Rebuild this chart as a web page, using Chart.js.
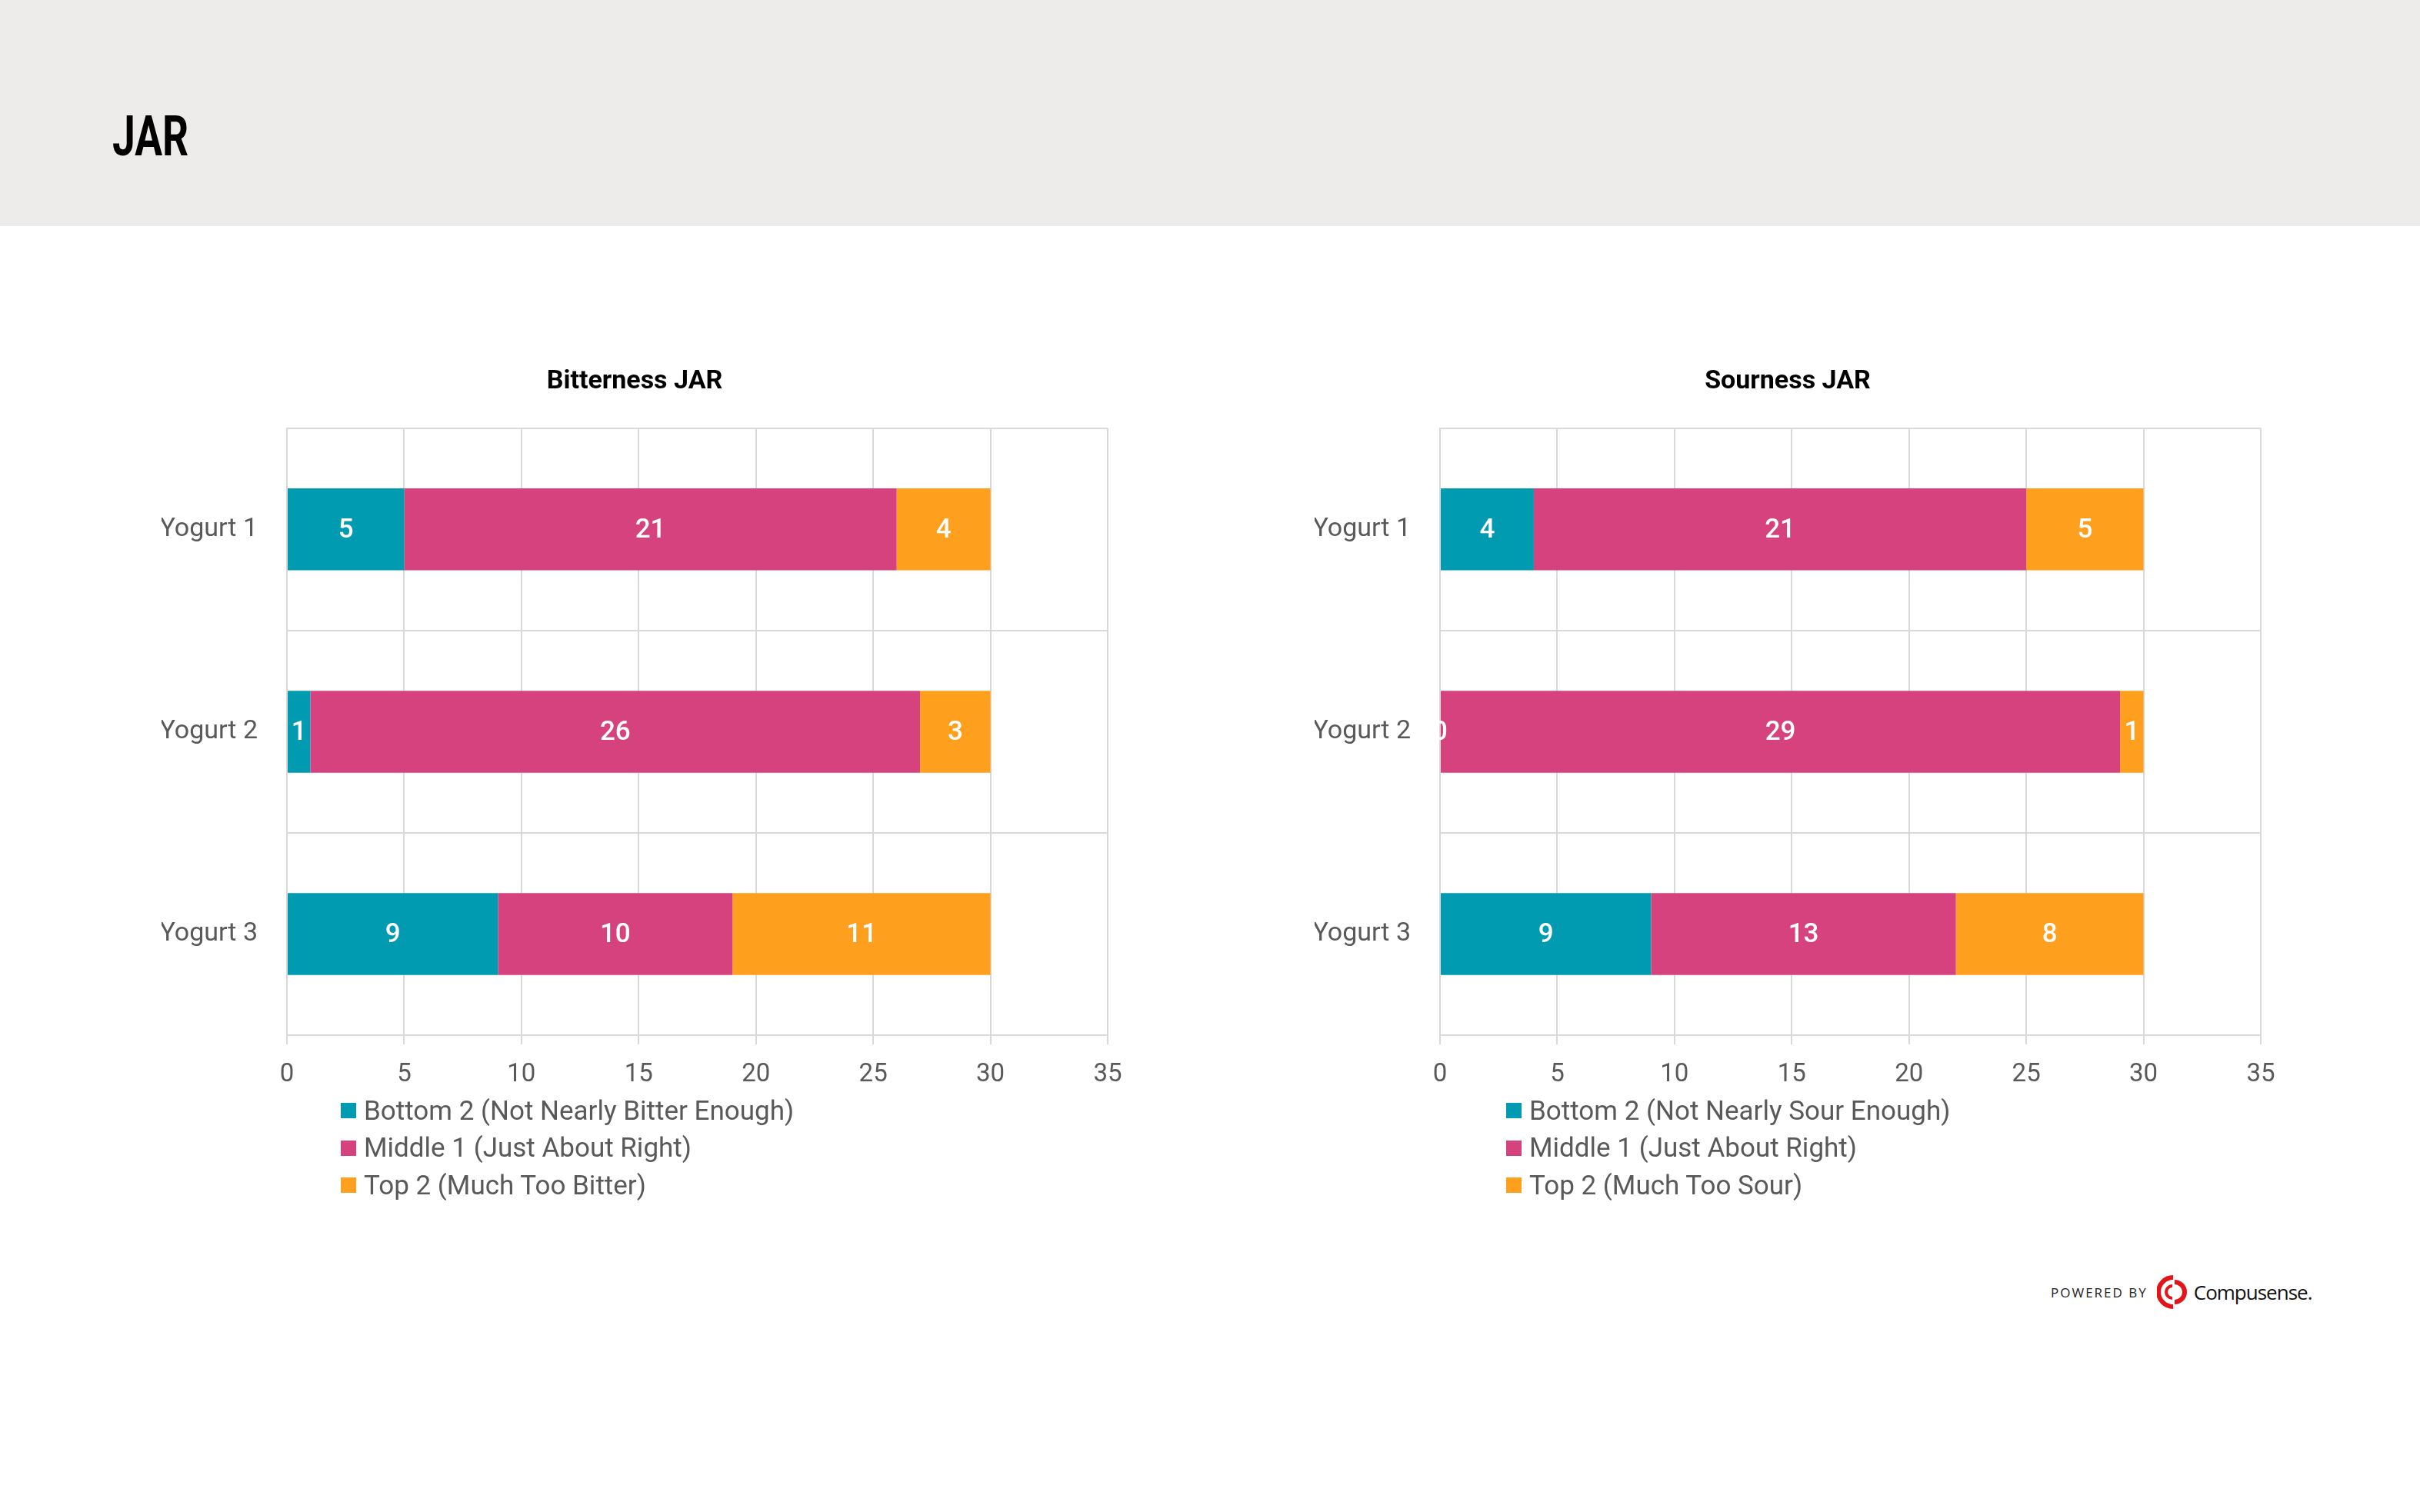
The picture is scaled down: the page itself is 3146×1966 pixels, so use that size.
<!DOCTYPE html>
<html>
<head>
<meta charset="utf-8">
<script src="https://cdn.jsdelivr.net/npm/chart.js@4.4.1/dist/chart.umd.min.js"></script>
<style>
  body { margin: 0; width: 3146px; height: 1966px; background: #fff; position: relative; overflow: hidden; font-family: Roboto, "Noto Sans", sans-serif; }
  #header { position: absolute; left: 0; top: 0; width: 3146px; height: 294px; background: #EDECEA; }
  #header h1 { position: absolute; left: 146px; top: 142px; margin: 0; font-family: Roboto, sans-serif; font-weight: bold; font-size: 72px; line-height: 72px; color: #000; transform: scaleX(0.74); transform-origin: left center; }
  canvas { position: absolute; }
  .legend { position: absolute; margin: 0; padding: 0; list-style: none; }
  .legend li { height: 48.5px; display: flex; align-items: center; font-size: 35px; color: #595959; }
  .legend span { display: inline-block; width: 20px; height: 20px; margin-right: 10px; }
  #footer { position: absolute; left: 2666px; top: 1658px; height: 44px; display: flex; align-items: center; }
  #footer .pb { font-family: "Open Sans", sans-serif; font-size: 17px; letter-spacing: 2px; color: #222; margin-right: 12px; }
  #footer .cs { font-family: "Open Sans", sans-serif; font-size: 26px; color: #111; letter-spacing: -1px; margin-left: 6px; }
</style>
</head>
<body>
<div id="header"><h1>JAR</h1></div>

<canvas id="bitterness" width="1350" height="996" style="left:150px; top:440px;"></canvas>
<canvas id="sourness" width="1350" height="996" style="left:1649px; top:440px;"></canvas>
<ul class="legend" id="legend-bitterness" style="left:443px; top:1420px;"></ul>
<ul class="legend" id="legend-sourness" style="left:1958px; top:1420px;"></ul>

<div id="footer">
  <span class="pb">POWERED BY</span>
  <svg width="42" height="44" viewBox="0 0 42 44">
    <path d="M21 3 A19 19 0 0 0 21 41" fill="none" stroke="#E3151A" stroke-width="6"/>
    <path d="M23 9 A13 13 0 0 1 23 35" fill="none" stroke="#E3151A" stroke-width="6"/>
    <path d="M20 14 A8 8 0 0 0 20 30" fill="none" stroke="#E3151A" stroke-width="4"/>
  </svg>
  <span class="cs">Compusense.</span>
</div>

<script>
var categories = ["Yogurt 1", "Yogurt 2", "Yogurt 3"];
var tickMax = 35;
var tickStep = 5;

var bitterLabels = ["Bottom 2 (Not Nearly Bitter Enough)", "Middle 1 (Just About Right)", "Top 2 (Much Too Bitter)"];
var bitterBottom = [5, 1, 9];
var bitterMiddle = [21, 26, 10];
var bitterTop = [4, 3, 11];

var sourLabels = ["Bottom 2 (Not Nearly Sour Enough)", "Middle 1 (Just About Right)", "Top 2 (Much Too Sour)"];
var sourBottom = [4, 0, 9];
var sourMiddle = [21, 29, 13];
var sourTop = [5, 1, 8];

var colores = ["#009AB1", "#D5427E", "#FF9F1E"];
var grisRejilla = "#D9D9D9";
var grisTexto = "#595959";

// etiquetas blancas dentro de cada segmento
var etiquetasPlugin = {
    id: "etiquetas",
    afterDatasetsDraw: function (chart) {
        var ctx = chart.ctx;
        ctx.save();
        ctx.fillStyle = "#ffffff";
        ctx.font = "500 35px Roboto";
        ctx.textAlign = "center";
        ctx.textBaseline = "middle";
        chart.data.datasets.forEach(function (ds, i) {
            var meta = chart.getDatasetMeta(i);
            meta.data.forEach(function (bar, j) {
                var x = (bar.x + bar.base) / 2;
                ctx.fillText(String(ds.data[j]), x, bar.y + 2);
            });
        });
        ctx.restore();
    }
};

function crear_grafica(id, titulo, labels, bottom, middle, top) {
    var datos = {
        type: "bar",
        data: {
            labels: categories,
            datasets: [
                { label: labels[0], data: bottom, backgroundColor: colores[0] },
                { label: labels[1], data: middle, backgroundColor: colores[1] },
                { label: labels[2], data: top, backgroundColor: colores[2] }
            ]
        },
        options: {
            indexAxis: "y",
            responsive: false,
            animation: false,
            devicePixelRatio: 1,
            datasets: { bar: { categoryPercentage: 1, barPercentage: 0.405 } },
            layout: { padding: { left: 60, right: 60 } },
            plugins: {
                legend: { display: false },
                tooltip: { enabled: false },
                title: {
                    display: true,
                    text: titulo,
                    color: "#000",
                    font: { family: "Roboto", size: 34, weight: "bold" },
                    padding: { top: 36, bottom: 40 }
                }
            },
            scales: {
                x: {
                    stacked: true,
                    min: 0,
                    max: tickMax,
                    ticks: { stepSize: tickStep, color: grisTexto, font: { family: "Roboto", size: 33 }, padding: 20 },
                    grid: { color: grisRejilla, lineWidth: 2, tickLength: 12 },
                    border: { color: grisRejilla, width: 2 },
                    afterFit: function (scale) { scale.height = 90; }
                },
                y: {
                    stacked: true,
                    ticks: { color: grisTexto, font: { family: "Roboto", size: 34 }, padding: 38 },
                    grid: { color: grisRejilla, lineWidth: 2, drawTicks: false },
                    border: { color: grisRejilla, width: 2 },
                    afterFit: function (scale) { scale.width = 163; }
                }
            }
        },
        plugins: [etiquetasPlugin]
    };
    var grafica = new Chart(document.getElementById(id), datos);

    var ul = document.getElementById("legend-" + id);
    grafica.data.datasets.forEach(function (ds) {
        var li = document.createElement("li");
        var caja = document.createElement("span");
        caja.style.background = ds.backgroundColor;
        li.appendChild(caja);
        li.appendChild(document.createTextNode(ds.label));
        ul.appendChild(li);
    });
    return grafica;
}

crear_grafica("bitterness", "Bitterness JAR", bitterLabels, bitterBottom, bitterMiddle, bitterTop);
crear_grafica("sourness", "Sourness JAR", sourLabels, sourBottom, sourMiddle, sourTop);
</script>
</body>
</html>
